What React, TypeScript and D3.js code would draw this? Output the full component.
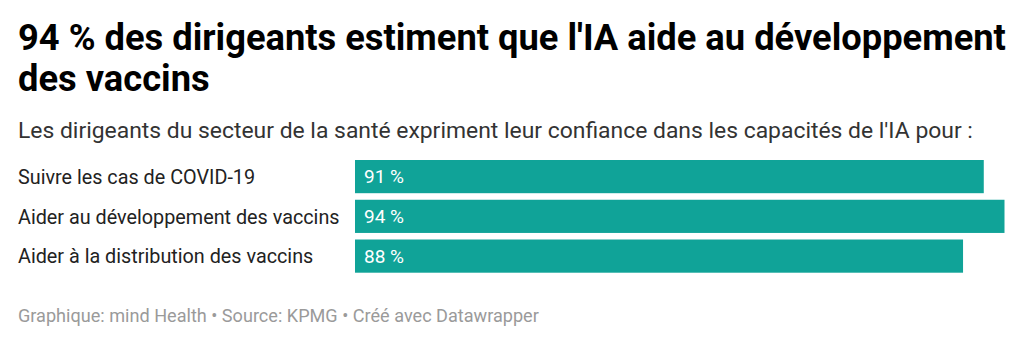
import React from "react";
import * as d3 from "d3";

const titleLines = ["94 % des dirigeants estiment que l'IA aide au développement", "des vaccins"];
const subtitle = "Les dirigeants du secteur de la santé expriment leur confiance dans les capacités de l'IA pour :";
const categories = ["Suivre les cas de COVID-19", "Aider au développement des vaccins", "Aider à la distribution des vaccins"];
const values = [91, 94, 88];
const footer = "Graphique: mind Health • Source: KPMG • Créé avec Datawrapper";

const W = 1024;
const H = 344;
const FONT = "Roboto, 'Noto Sans', sans-serif";
const BAR_COLOR = "#10a398";

export default function App() {
  const x = d3.scaleLinear().domain([0, d3.max(values) as number]).range([355, 1004.5]);
  const y = d3.scaleBand<string>().domain(categories).range([160, 272.7]).paddingInner(0.165).paddingOuter(0);

  return (
    <svg width={W} height={H} style={{ position: "absolute", left: 0, top: 0, background: "#fff" }} fontFamily={FONT}>
      <text x={18} y={50} fontSize={36.3} fontWeight={700} fill="#000">
        {titleLines.map((l, i) => (
          <tspan key={i} x={18} dy={i === 0 ? 0 : 40.5}>{l}</tspan>
        ))}
      </text>
      <text x={18} y={137.5} fontSize={22.9} fill="#333">{subtitle}</text>
      {categories.map((c, i) => {
        const by = y(c) as number;
        const bh = y.bandwidth();
        const cy = by + bh / 2;
        return (
          <g key={c}>
            <text x={18} y={cy + 7.2} fontSize={19.8} fill="#222">{c}</text>
            <rect x={x(0)} y={by} width={x(values[i]) - x(0)} height={bh} fill={BAR_COLOR} />
            <text x={x(0) + 9} y={cy + 6.6} fontSize={19} fill="#fff">{`${values[i]} %`}</text>
          </g>
        );
      })}
      <text x={18} y={322} fontSize={18.1} fill="#9a9a9a">{footer}</text>
    </svg>
  );
}
